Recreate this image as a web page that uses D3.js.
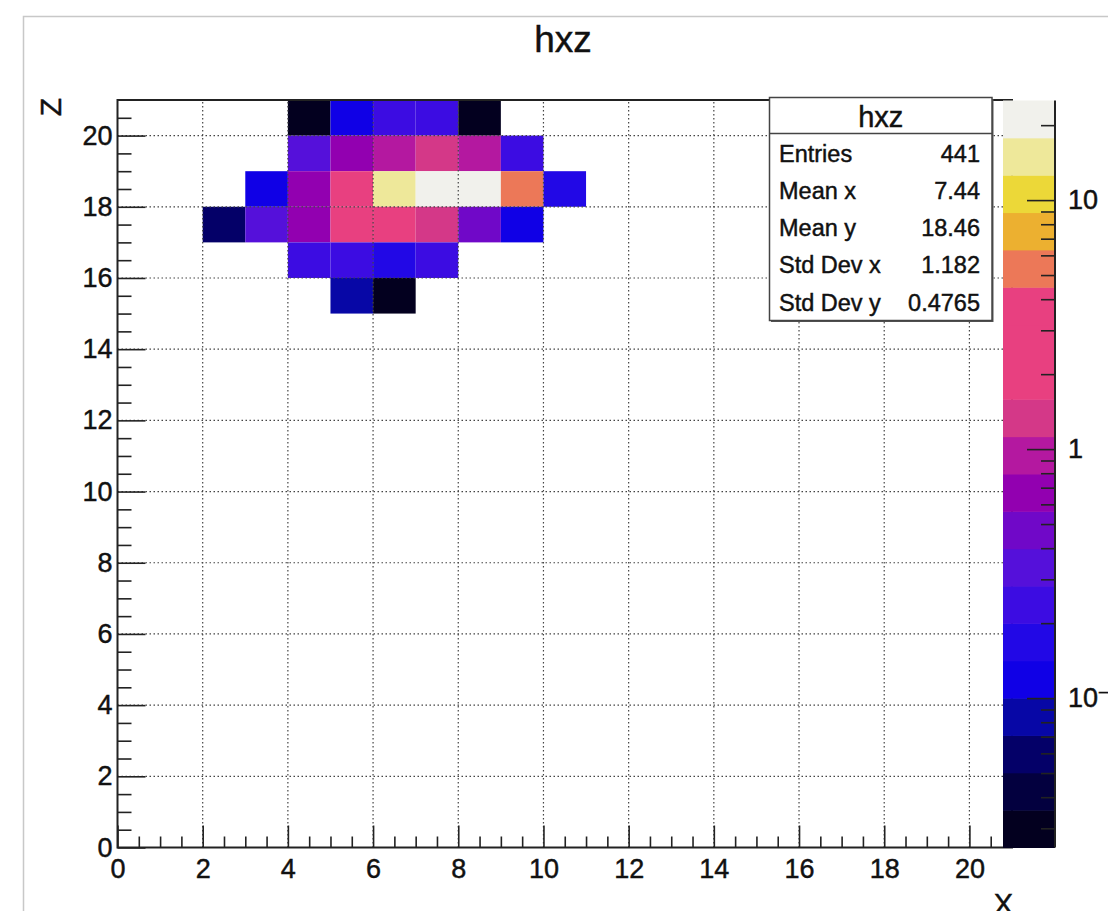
<!DOCTYPE html>
<html>
<head>
<meta charset="utf-8">
<script src="https://cdn.jsdelivr.net/npm/d3@7"></script>
<style>
body { margin: 0; background: #fff; }
svg { display: block; font-family: "Liberation Sans", Arial, Helvetica, sans-serif; }
svg text { stroke: #111; stroke-width: 0.45px; }
</style>
</head>
<body>
<div id="chart"></div>
<script>
const width = 1108, height = 911;

// histogram bins: one row per z bin, first filled x bin, then contents
const rowZ = [20, 19, 18, 17, 16, 15];
const rowFirstX = [4, 4, 3, 2, 4, 5];
const rowContent = [
  [0.03, 0.13, 0.24, 0.24, 0.03],
  [0.34, 0.68, 0.95, 1.35, 0.95, 0.24],
  [0.13, 0.68, 2.7, 15, 21, 21, 5.3, 0.17],
  [0.06, 0.34, 0.68, 2.7, 2.7, 1.35, 0.48, 0.13],
  [0.24, 0.24, 0.17, 0.24],
  [0.085, 0.03]
];

// palette, bottom to top (20 contour levels, log z)
const paletteColors = ["#03001f", "#03003f", "#040068", "#0707a6", "#1000e6",
  "#2208e6", "#3c0ce2", "#5510da", "#7008c8", "#9200b0",
  "#b418a0", "#d43888", "#e84080", "#e84080", "#e84080",
  "#ec7858", "#ecb030", "#ecd838", "#eee89a", "#f1f1ec"];
const zRange = [0.02512, 25.12];
const zTickValues = [0.1, 1, 10];
const zTickLabels = ["10^{-1}", "1", "10"];

const xTicks = [0, 2, 4, 6, 8, 10, 12, 14, 16, 18, 20];
const yTicks = [0, 2, 4, 6, 8, 10, 12, 14, 16, 18, 20];

const statsTitle = "hxz";
const statsLabels = ["Entries", "Mean x", "Mean y", "Std Dev x", "Std Dev y"];
const statsValues = ["441", "7.44", "18.46", "1.182", "0.4765"];

const svg = d3.select('#chart')
  .append('svg')
  .attr('width', width)
  .attr('height', height);

// canvas border
svg.append('rect')
  .attr('x', 23.5).attr('y', 16.5)
  .attr('width', 1200).attr('height', 1000)
  .attr('fill', 'none')
  .attr('stroke', '#c8c8c8')
  .attr('stroke-width', 1.5);

const pLeft = 117.5, pRight = 1012, pTop = 100, pBottom = 847.5;

const x = d3.scaleLinear().domain([0, 21]).range([pLeft, pRight]);
const y = d3.scaleLinear().domain([0, 21]).range([pBottom, pTop]);
const z = d3.scaleLog().domain(zRange).range([pBottom, pTop + 0.5]);
const colour = d3.scaleQuantize()
  .domain(zRange.map(Math.log10))
  .range(paletteColors);

// cells
const cells = [];
rowZ.forEach((zb, i) => {
  rowContent[i].forEach((v, j) => {
    cells.push({ xb: rowFirstX[i] + j, zb: zb, v: v });
  });
});

svg.append('g')
  .selectAll('rect')
  .data(cells)
  .enter()
  .append('rect')
  .attr('x', d => x(d.xb))
  .attr('y', d => y(d.zb + 1))
  .attr('width', d => x(d.xb + 1) - x(d.xb))
  .attr('height', d => y(d.zb) - y(d.zb + 1))
  .attr('fill', d => colour(Math.log10(d.v)));

// dotted grid
const grid = svg.append('g')
  .attr('stroke', '#444')
  .attr('stroke-width', 1.2)
  .attr('stroke-dasharray', '1.5,2.5');

grid.selectAll('.gx')
  .data(xTicks.filter(d => d > 0))
  .enter()
  .append('line')
  .attr('x1', d => x(d)).attr('x2', d => x(d))
  .attr('y1', pBottom).attr('y2', pTop);

grid.selectAll('.gy')
  .data(yTicks.filter(d => d > 0))
  .enter()
  .append('line')
  .attr('x1', pLeft).attr('x2', pRight)
  .attr('y1', d => y(d)).attr('y2', d => y(d));

// frame
svg.append('rect')
  .attr('x', pLeft).attr('y', pTop)
  .attr('width', pRight - pLeft).attr('height', pBottom - pTop)
  .attr('fill', 'none')
  .attr('stroke', '#222')
  .attr('stroke-width', 2);

const halfSteps = d3.range(0, 21, 0.5);

const styleAxis = (g, size) => {
  g.select('.domain').remove();
  g.selectAll('.tick line').attr('stroke', '#222').attr('stroke-width', 1.6);
  g.selectAll('.tick text')
    .attr('fill', '#111')
    .style('font-size', size + 'px');
};

// x axis
svg.append('g')
  .attr('transform', `translate(0,${pBottom})`)
  .call(d3.axisBottom(x).tickValues(halfSteps.filter(d => d % 2 !== 0)).tickSize(-11).tickFormat(''))
  .call(g => styleAxis(g, 27));

svg.append('g')
  .attr('transform', `translate(0,${pBottom})`)
  .call(d3.axisBottom(x).tickValues(xTicks).tickSize(-22).tickPadding(11).tickFormat(d3.format('d')))
  .call(g => styleAxis(g, 27));

// y axis
svg.append('g')
  .attr('transform', `translate(${pLeft},0)`)
  .call(d3.axisLeft(y).tickValues(halfSteps.filter(d => d % 2 !== 0)).tickSize(-14).tickFormat(''))
  .call(g => styleAxis(g, 27));

svg.append('g')
  .attr('transform', `translate(${pLeft},0)`)
  .call(d3.axisLeft(y).tickValues(yTicks).tickSize(-28).tickPadding(5).tickFormat(d3.format('d')))
  .call(g => styleAxis(g, 27));

// axis titles
svg.append('text')
  .attr('x', 1013).attr('y', 914)
  .attr('text-anchor', 'end')
  .style('font-size', '29px')
  .attr('fill', '#111')
  .text('X');

svg.append('text')
  .attr('transform', 'translate(61,98) rotate(-90)')
  .attr('text-anchor', 'end')
  .style('font-size', '30px')
  .attr('fill', '#111')
  .text('Z');

// title
svg.append('text')
  .attr('x', 563).attr('y', 52)
  .attr('text-anchor', 'middle')
  .style('font-size', '37px')
  .attr('fill', '#111')
  .text('hxz');

// palette
const palX = 1003, palW = 52;
const logMin = Math.log10(zRange[0]);
const step = (Math.log10(zRange[1]) - logMin) / paletteColors.length;

svg.append('g')
  .selectAll('rect')
  .data(paletteColors)
  .enter()
  .append('rect')
  .attr('x', palX)
  .attr('y', (d, i) => z(Math.pow(10, logMin + (i + 1) * step)))
  .attr('width', palW)
  .attr('height', (d, i) => z(Math.pow(10, logMin + i * step)) - z(Math.pow(10, logMin + (i + 1) * step)) + 0.5)
  .attr('fill', d => d);

svg.append('line')
  .attr('x1', palX + palW).attr('x2', palX + palW)
  .attr('y1', pTop + 0.5).attr('y2', pBottom)
  .attr('stroke', '#222').attr('stroke-width', 2);

svg.append('g')
  .attr('transform', `translate(${palX + palW},0)`)
  .call(d3.axisRight(z).tickValues(z.ticks().filter(d => !zTickValues.includes(d))).tickSize(-14).tickFormat(''))
  .call(g => styleAxis(g, 27));

const zAxis = svg.append('g')
  .attr('transform', `translate(${palX + palW},0)`)
  .call(d3.axisRight(z).tickValues(zTickValues).tickSize(-28).tickPadding(13).tickFormat(() => ''))
  .call(g => styleAxis(g, 27));

zAxis.selectAll('.tick text').each(function (d, i) {
  const t = d3.select(this);
  const lab = zTickLabels[i];
  const m = lab.match(/^(.*)\^\{(.*)\}$/);
  if (m) {
    t.append('tspan').text(m[1]);
    t.append('tspan').attr('dy', '-0.45em').style('font-size', '19px').text(m[2].replace('-', '\u2212'));
  } else {
    t.text(lab);
  }
});

// stats box
const sb = { x: 769.5, y: 97.5, w: 222.5, h: 223 };
svg.append('rect')
  .attr('x', sb.x + 1.5).attr('y', sb.y + 1.5)
  .attr('width', sb.w).attr('height', sb.h)
  .attr('fill', '#555');
svg.append('rect')
  .attr('x', sb.x).attr('y', sb.y)
  .attr('width', sb.w).attr('height', sb.h)
  .attr('fill', '#fff')
  .attr('stroke', '#444')
  .attr('stroke-width', 1.5);
svg.append('line')
  .attr('x1', sb.x).attr('x2', sb.x + sb.w)
  .attr('y1', 133.5).attr('y2', 133.5)
  .attr('stroke', '#444').attr('stroke-width', 1.5);

svg.append('text')
  .attr('x', sb.x + sb.w / 2).attr('y', 127)
  .attr('text-anchor', 'middle')
  .style('font-size', '29px')
  .attr('fill', '#111')
  .text(statsTitle);

const rowY = d3.scalePoint().domain(statsLabels).range([162, 310.5]);

svg.append('g')
  .selectAll('text')
  .data(statsLabels)
  .enter()
  .append('text')
  .attr('x', 779)
  .attr('y', d => rowY(d))
  .style('font-size', '23.5px')
  .attr('fill', '#111')
  .text(d => d);

svg.append('g')
  .selectAll('text')
  .data(statsValues)
  .enter()
  .append('text')
  .attr('x', 980)
  .attr('y', (d, i) => rowY(statsLabels[i]))
  .attr('text-anchor', 'end')
  .style('font-size', '23.5px')
  .attr('fill', '#111')
  .text(d => d);
</script>
</body>
</html>
